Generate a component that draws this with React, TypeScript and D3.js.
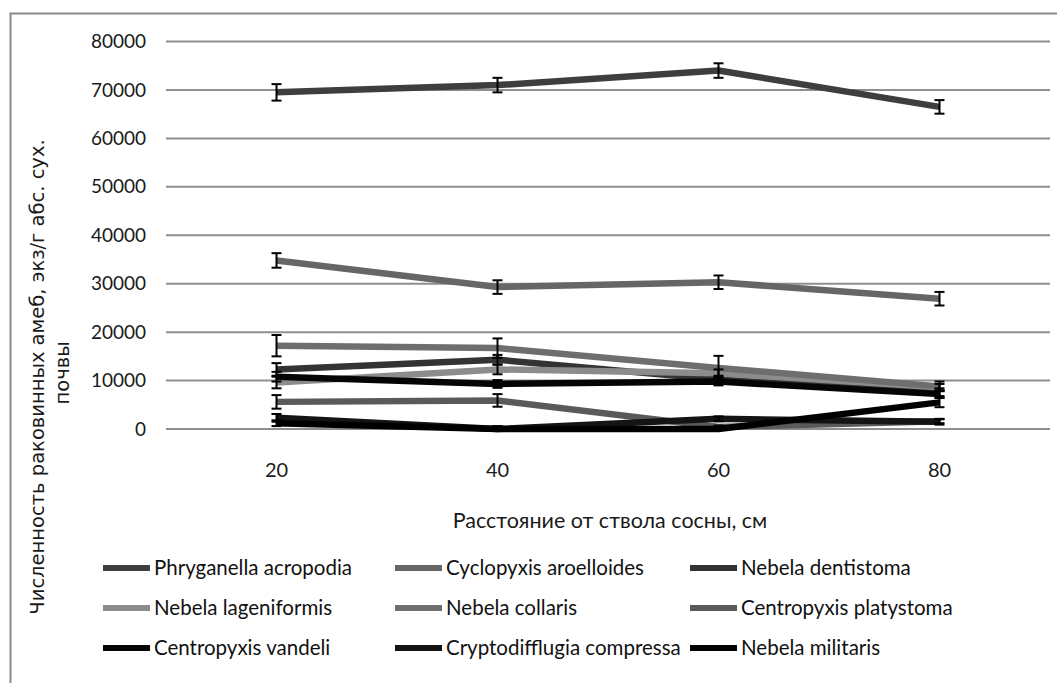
import React from "react";
import * as d3 from "d3";

const categories = ["20", "40", "60", "80"];
const yTicks = [0, 10000, 20000, 30000, 40000, 50000, 60000, 70000, 80000];

const seriesNames = [
  "Phryganella acropodia",
  "Cyclopyxis aroelloides",
  "Nebela dentistoma",
  "Nebela lageniformis",
  "Nebela collaris",
  "Centropyxis platystoma",
  "Centropyxis vandeli",
  "Cryptodifflugia compressa",
  "Nebela militaris",
];
const seriesColors = ["#3e3e3e", "#666666", "#333333", "#8c8c8c", "#6e6e6e", "#5a5a5a", "#050505", "#141414", "#000000"];

const phryganella = [69500, 71000, 74000, 66500];
const cyclopyxis = [34800, 29300, 30300, 26900];
const dentistoma = [12300, 14300, 10200, 7600];
const lageniformis = [9600, 12300, 11500, 8600];
const collaris = [17200, 16700, 12600, 8800];
const platystoma = [5600, 5900, 400, 1600];
const vandeli = [10800, 9300, 9800, 7200];
const cryptodifflugia = [2300, 0, 2100, 1500];
const militaris = [1200, 0, 0, 5500];

const phryganellaErr = [1700, 1500, 1500, 1400];
const cyclopyxisErr = [1500, 1400, 1400, 1400];
const dentistomaErr = [1300, 1000, 800, 800];
const lageniformisErr = [1200, 1000, 800, 700];
const collarisErr = [2200, 2000, 2500, 1000];
const platystomaErr = [1400, 1300, 300, 400];
const vandeliErr = [1000, 800, 800, 800];
const cryptodifflugiaErr = [800, 600, 500, 600];
const militarisErr = [600, 500, 300, 1000];

const seriesValues = [phryganella, cyclopyxis, dentistoma, lageniformis, collaris, platystoma, vandeli, cryptodifflugia, militaris];
const seriesErrors = [phryganellaErr, cyclopyxisErr, dentistomaErr, lageniformisErr, collarisErr, platystomaErr, vandeliErr, cryptodifflugiaErr, militarisErr];

const W = 1057;
const H = 683;
const plotLeft = 166;
const plotRight = 1050;
const plotTop = 41.5;
const plotBottom = 429;

export default function App() {
  const x = d3.scaleBand<string>().domain(categories).range([plotLeft, plotRight]).padding(0);
  const y = d3.scaleLinear().domain([0, 80000]).range([plotBottom, plotTop]);
  const cx = (c: string) => (x(c) as number) + x.bandwidth() / 2;
  const line = d3
    .line<number>()
    .x((_, i) => cx(categories[i]))
    .y((d) => y(d));

  const legendCols = [103, 395, 690];
  const legendRows = [568, 608, 648];
  const labelFont = "Lato, 'Open Sans', sans-serif";

  return (
    <svg width={W} height={H} style={{ position: "absolute", left: 0, top: 0, background: "#fff" }}>
      <rect x={0} y={0} width={W} height={H} fill="#fff" />
      <rect x={10.5} y={13.5} width={1060} height={700} fill="none" stroke="#8a8a8a" strokeWidth={2} />

      {yTicks.map((t) => (
        <g key={t}>
          <line x1={plotLeft} x2={plotRight} y1={y(t)} y2={y(t)} stroke="#8f8f8f" strokeWidth={2} />
          <text x={146} y={y(t)} dy="0.35em" textAnchor="end" fontFamily={labelFont} fontSize={19} fill="#1a1a1a">
            {t}
          </text>
        </g>
      ))}

      {categories.map((c) => (
        <text key={c} x={cx(c)} y={470} dy="0.35em" textAnchor="middle" fontFamily={labelFont} fontSize={20} fill="#1a1a1a">
          {c}
        </text>
      ))}

      <text x={610} y={520} dy="0.35em" textAnchor="middle" fontFamily={labelFont} fontSize={21.5} fill="#1a1a1a">
        Расстояние от ствола сосны, см
      </text>

      <g transform="translate(37,377) rotate(-90)">
        <text x={0} y={0} dy="0.35em" textAnchor="middle" fontFamily="'DejaVu Sans', sans-serif" fontSize={19.5} fill="#1a1a1a">
          Численность раковинных амеб, экз/г абс. сух.
        </text>
      </g>
      <g transform="translate(62,373) rotate(-90)">
        <text x={0} y={0} dy="0.35em" textAnchor="middle" fontFamily="'DejaVu Sans', sans-serif" fontSize={19.5} fill="#1a1a1a">
          почвы
        </text>
      </g>

      {seriesValues.map((vals, si) => (
        <path
          key={"l" + si}
          d={line(vals) || ""}
          fill="none"
          stroke={seriesColors[si]}
          strokeWidth={6.5}
          strokeLinejoin="round"
        />
      ))}

      {seriesValues.map((vals, si) => (
        <g key={"e" + si}>
          {vals.map((v, i) => {
            const px = cx(categories[i]);
            const e = seriesErrors[si][i];
            const y1 = y(Math.max(0, v - e));
            const y2 = y(v + e);
            return (
              <g key={i} stroke="#000" strokeWidth={2}>
                <line x1={px} x2={px} y1={y1} y2={y2} />
                <line x1={px - 5} x2={px + 5} y1={y1} y2={y1} />
                <line x1={px - 5} x2={px + 5} y1={y2} y2={y2} />
              </g>
            );
          })}
        </g>
      ))}

      {seriesNames.map((name, i) => {
        const lx = legendCols[i % 3];
        const ly = legendRows[Math.floor(i / 3)];
        return (
          <g key={name}>
            <line x1={lx} x2={lx + 47} y1={ly} y2={ly} stroke={seriesColors[i]} strokeWidth={6} />
            <text x={lx + 51} y={ly} dy="0.35em" fontFamily={labelFont} fontSize={20.5} fill="#111">
              {name}
            </text>
          </g>
        );
      })}
    </svg>
  );
}
